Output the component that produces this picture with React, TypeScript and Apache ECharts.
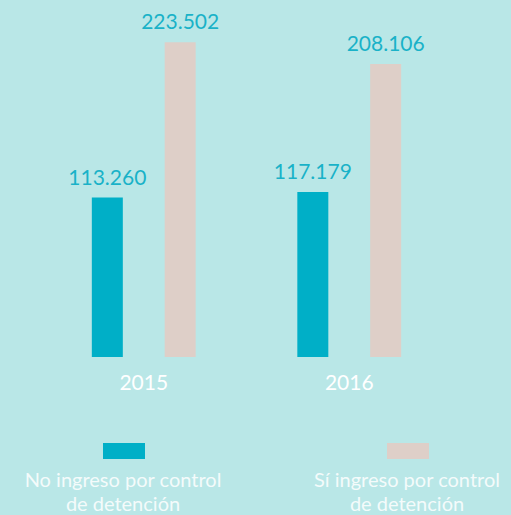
import React, { useEffect, useRef } from "react";
import * as echarts from "echarts";

const years = ["2015", "2016"];
const seriesNames = [
  "No ingreso por control de detención",
  "Sí ingreso por control de detención",
];
const legendLines = [
  "No ingreso por control\nde detención",
  "Sí ingreso por control\nde detención",
];
const noIngreso = [113260, 117179];
const siIngreso = [223502, 208106];
const colors = ["#00afc7", "#decfc8"];

const fmt = (v: number) => String(v).replace(/\B(?=(\d{3})+(?!\d))/g, ".");

export default function App() {
  const ref = useRef<HTMLDivElement>(null);
  useEffect(() => {
    if (!ref.current) return;
    const chart = echarts.init(ref.current, undefined, { renderer: "svg" });
    const font = "Lato, 'Open Sans', sans-serif";
    const label = {
      show: true,
      position: "top" as const,
      distance: 11,
      color: "#19b2c8",
      fontSize: 21,
      fontFamily: font,
      formatter: (p: any) => fmt(p.value),
    };
    chart.setOption({
      animation: false,
      backgroundColor: "#b9e7e7",
      grid: { left: 41, right: 59, top: 5, bottom: 158 },
      xAxis: {
        type: "category",
        data: years,
        axisLine: { show: false },
        axisTick: { show: false },
        axisLabel: {
          color: "#ffffff",
          fontSize: 21,
          fontFamily: font,
          margin: 14,
        },
      },
      yAxis: {
        type: "value",
        min: 0,
        max: 250000,
        show: false,
        splitLine: { show: false },
      },
      series: [
        {
          name: seriesNames[0],
          type: "bar",
          data: noIngreso,
          barWidth: 31,
          barGap: "135%",
          itemStyle: { color: colors[0] },
          label,
        },
        {
          name: seriesNames[1],
          type: "bar",
          data: siIngreso,
          barWidth: 31,
          barGap: "135%",
          itemStyle: { color: colors[1] },
          label,
        },
      ],
      graphic: [0, 1].flatMap((i) => {
        const cx = i === 0 ? 124 : 408;
        return [
          {
            type: "rect",
            shape: { x: cx - 21, y: 443, width: 42, height: 16 },
            style: { fill: colors[i] },
          },
          {
            type: "text",
            x: cx - 1,
            y: 467,
            style: {
              text: legendLines[i],
              fill: "#f4fbfb",
              fontSize: 20,
              fontFamily: font,
              lineHeight: 24,
              align: "center",
              verticalAlign: "top",
            },
          },
        ];
      }),
    });
    return () => chart.dispose();
  }, []);
  return (
    <div
      ref={ref}
      style={{ position: "fixed", left: 0, top: 0, width: 511, height: 515 }}
    />
  );
}
